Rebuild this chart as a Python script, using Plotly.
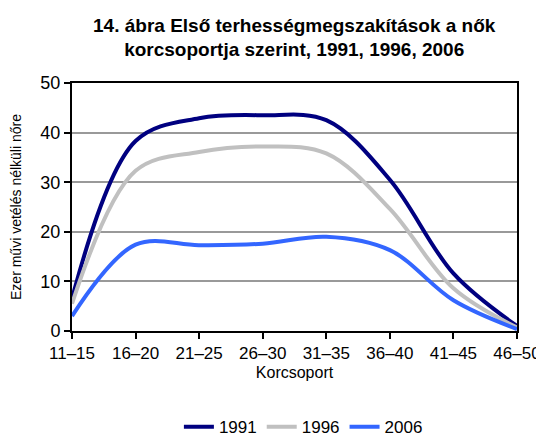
import plotly.graph_objects as go

categories = ["11–15", "16–20", "21–25", "26–30", "31–35", "36–40", "41–45", "46–50"]
y1991 = [6.5, 38.3, 42.9, 43.5, 42.5, 30.5, 11.6, 1.0]
y1996 = [5.5, 32.3, 36.1, 37.2, 35.8, 24.6, 8.6, 0.7]
y2006 = [3.0, 17.4, 17.3, 17.6, 19.0, 16.3, 6.2, 0.4]
series_names = ["1991", "1996", "2006"]
colors = ["#000080", "#C0C0C0", "#3366FF"]

fig = go.Figure()
for name, vals, col in zip(series_names, [y1991, y1996, y2006], colors):
    fig.add_trace(go.Scatter(
        x=categories, y=vals, name=name, mode="lines",
        line=dict(color=col, width=4, shape="spline", smoothing=1.0),
    ))

font = "Liberation Sans, Arial, sans-serif"
fig.update_layout(
    width=536, height=429,
    margin=dict(l=64, r=27, t=75, b=106, autoexpand=False),
    paper_bgcolor="white", plot_bgcolor="white",
    font=dict(family=font, color="black", size=16),
    title=dict(
        text="<b>14. ábra Első terhességmegszakítások a nők<br>korcsoportja szerint, 1991, 1996, 2006</b>",
        x=0.534, xanchor="center", yref="container", y=0.945, yanchor="middle",
        font=dict(size=19, family=font),
    ),
    showlegend=True,
    legend=dict(
        orientation="h", x=0.52, xanchor="center",
        yref="container", y=0.023, yanchor="middle",
        font=dict(size=17), itemwidth=30, tracegroupgap=0,
    ),
    xaxis=dict(
        type="category", range=[0, 7],
        showline=True, linecolor="black", linewidth=2, mirror=True,
        ticks="outside", ticklen=6, tickwidth=2, tickcolor="black",
        showgrid=False, zeroline=False,
        tickfont=dict(size=17),
        title=dict(text="Korcsoport", font=dict(size=16), standoff=4),
    ),
    yaxis=dict(
        range=[0, 50], dtick=10,
        showline=True, linecolor="black", linewidth=2, mirror=True,
        ticks="outside", ticklen=6, tickwidth=2, tickcolor="black",
        showgrid=True, gridcolor="#999999", gridwidth=2, zeroline=False,
        tickfont=dict(size=18),
        title=dict(text="Ezer művi vetélés nélküli nőre", font=dict(size=14), standoff=18),
    ),
)

fig.write_html("out.html")
